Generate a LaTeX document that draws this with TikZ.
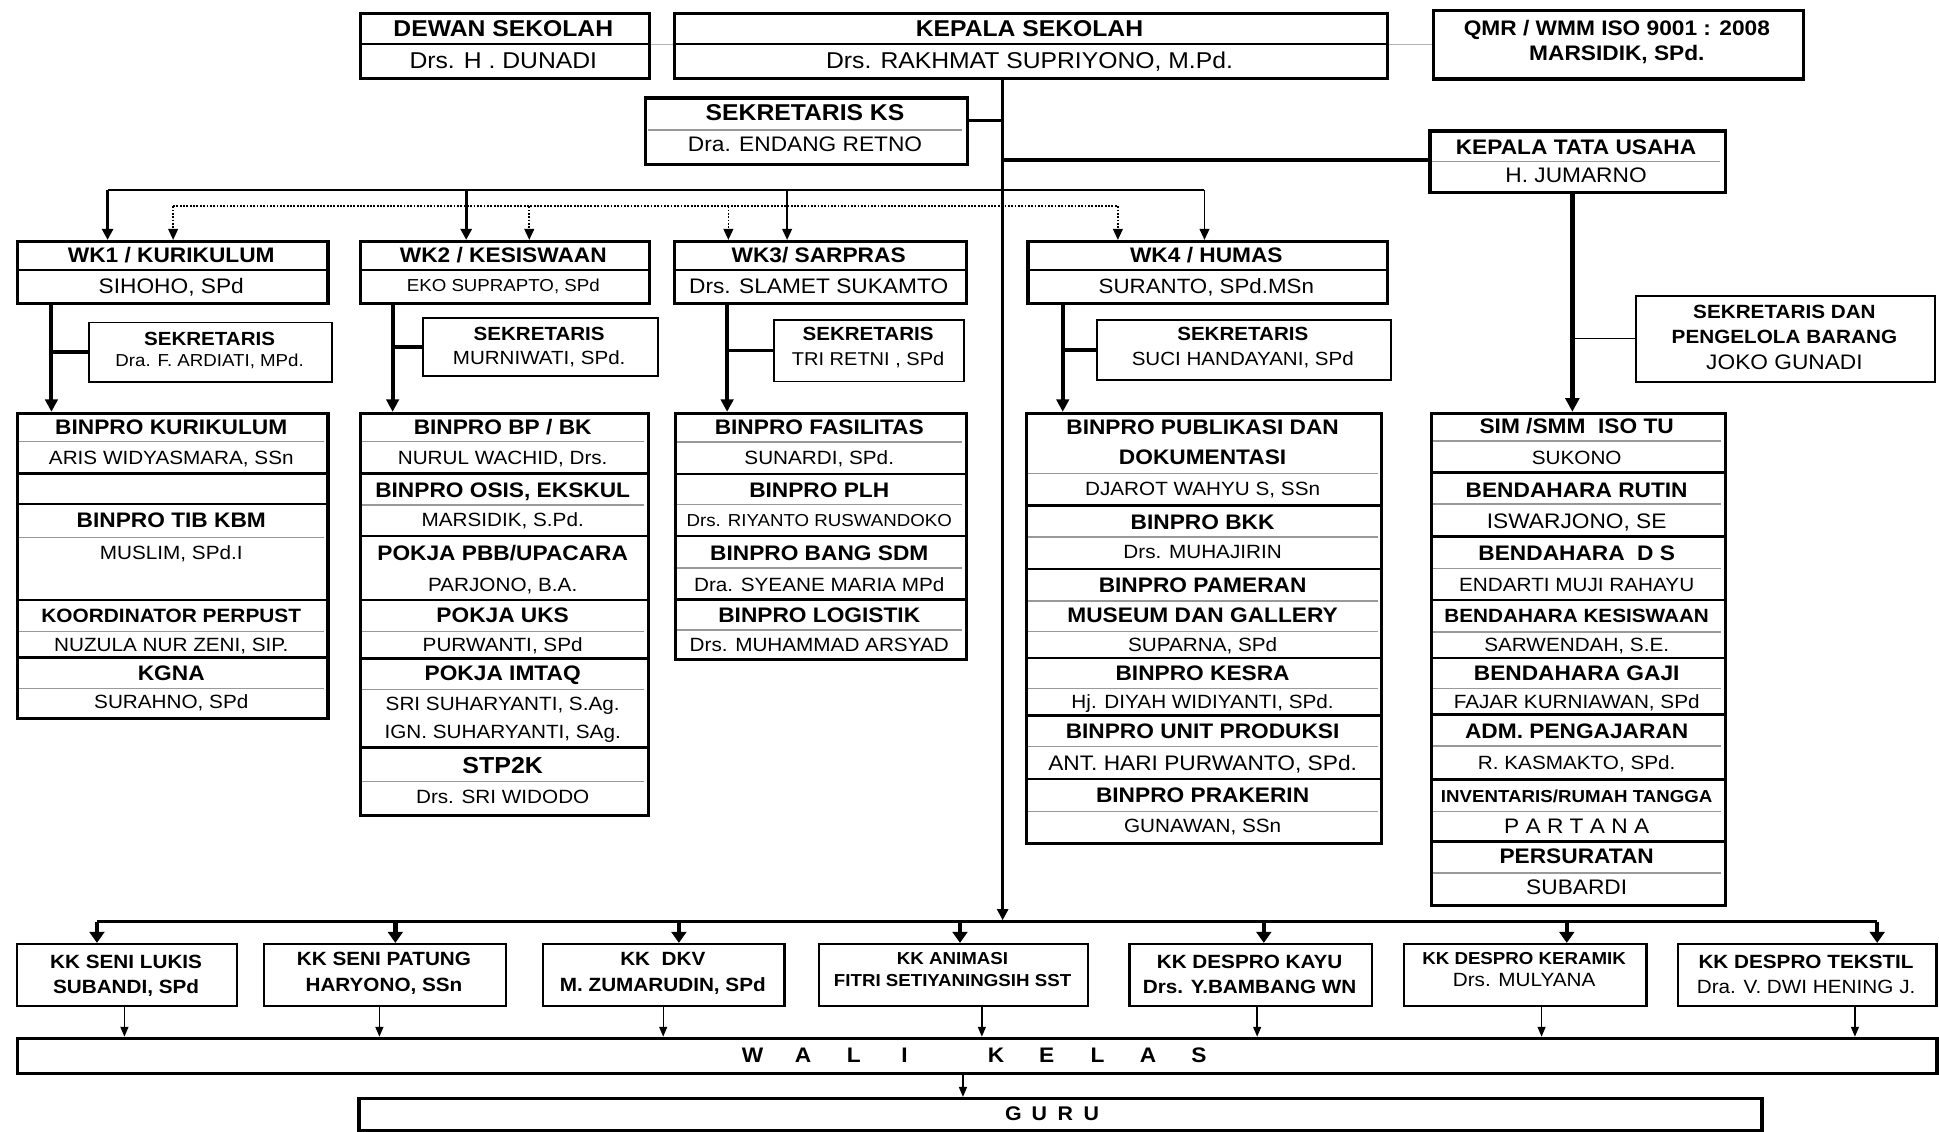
\documentclass[tikz,border=0pt]{standalone}
\usepackage{fontspec}
\setmainfont{Liberation Sans}[FakeStretch=1.08]
\usetikzlibrary{arrows.meta}
\newcommand\bx[6]{\node[#6, anchor=north west, minimum width={#4-#2}, minimum height={#5-#3}] (#1) at (#2,#3) {};}
\newcommand\tx[5]{\node[#4] (#1) at (#2,#3) {#5};}
\newcommand\dv[4]{\draw[#1] (#2,#4) -- (#3,#4);}
\newcommand\spl[1]{\makebox[41pt]{#1}}
\newcommand\spg[1]{\makebox[21pt]{#1}}
\tikzset{
  fsz/.code 2 args={\pgfmathsetmacro\capht{0.716*#1}\edef\tmpx{\noexpand\tikzset{text height=\capht pt}}\tmpx\tikzset{font=\fontsize{#1}{#1}\selectfont#2, text depth=0pt, inner sep=0pt}},
  T/.style={fsz={#1}{\bfseries}}, T/.default=17,
  N/.style={fsz={#1}{}}, N/.default=15.5,
  outer/.style={draw, line width=2.6pt, inner sep=0pt},
  sbox/.style={draw, line width=1.6pt, inner sep=0pt},
  kbox/.style={draw, line width=1.8pt, inner sep=0pt},
  thk/.style={line width=2.2pt},
  mid/.style={line width=1.3pt},
  gry/.style={line width=1pt, draw=black!40},
  faint/.style={line width=0.8pt, draw=black!30},
  trunkline/.style={line width=2pt, -{Triangle[length=9pt,width=9pt]}},
  thickline/.style={line width=2.6pt},
  wkarrA/.style={line width=2.4pt, -{Triangle[length=9pt,width=9pt]}},
  wkarrB/.style={line width=1.3pt, -{Triangle[length=9pt,width=8pt]}},
  dotline/.style={line width=1.3pt, dash pattern=on 1.5pt off 1.2pt},
  dotarr/.style={dotline, -{Triangle[length=9pt,width=8pt]}},
  colarr/.style={line width=3.2pt, -{Triangle[length=10pt,width=10pt]}},
  sekline/.style={line width=3pt},
  tuarr/.style={line width=4pt, -{Triangle[length=11pt,width=11pt]}},
  thinline/.style={line width=1.3pt},
  kkarr/.style={line width=3.5pt, -{Triangle[length=9pt,width=12pt]}},
  warr/.style={line width=1.1pt, -{Triangle[length=8pt,width=6.5pt]}},
  bus/.style={line width=2.2pt},
}
\begin{document}
\begin{tikzpicture}[x=1pt,y=-1pt]
\useasboundingbox (0,0) rectangle (1568,915);
\fill[white] (0,0) rectangle (1568,915);

% ---------- top row ----------
\dv{mid}{290}{524}{35.6}
\dv{mid}{544}{1121}{35.6}
\bx{dewan}{290}{9.5}{524}{62}{outer}
\bx{kepala}{544}{9.5}{1121}{62}{outer}
\bx{qmr}{1158}{7.5}{1457}{62.5}{outer}
\tx{dewanT}{407}{23}{T=18.5}{DEWAN SEKOLAH}
\tx{dewanN}{407}{48.5}{N=18.5}{Drs. H . DUNADI}
\tx{kepalaT}{832.5}{23}{T=18.5}{KEPALA SEKOLAH}
\tx{kepalaN}{832.5}{48.5}{N=18.5}{Drs. RAKHMAT SUPRIYONO, M.Pd.}
\tx{qmrT}{1307.5}{23}{T=17}{QMR / WMM ISO 9001 : 2008}
\tx{qmrN}{1307.5}{43}{T=17}{MARSIDIK, SPd.}

% sekretaris KS
\dv{gry}{524}{778}{105.2}
\bx{sks}{521}{78}{781}{131.6}{outer}
\tx{sksT}{651}{91}{T=18.5}{SEKRETARIS KS}
\tx{sksN}{651}{116.5}{N=17}{Dra. ENDANG RETNO}

% kepala tata usaha
\dv{gry}{1158}{1391}{130.8}
\bx{ktu}{1155}{104.6}{1394}{154.2}{outer}
\tx{ktuT}{1274.5}{118.6}{T=17}{KEPALA TATA USAHA}
\tx{ktuN}{1274.5}{141.5}{N=17}{H. JUMARNO}

% sekretaris dan pengelola barang
\bx{sdan}{1322}{238.6}{1564}{308.2}{sbox}
\tx{sdanA}{1443}{252}{T=15.5}{SEKRETARIS DAN}
\tx{sdanB}{1443}{272.3}{T=15.5}{PENGELOLA BARANG}
\tx{sdanC}{1443}{292.5}{N=17}{JOKO GUNADI}

% ---------- WK boxes ----------
\dv{mid}{13}{264}{218.5}
\dv{mid}{290}{524}{218.5}
\dv{mid}{544}{780}{218.5}
\dv{mid}{830}{1121}{218.5}
\bx{wk1}{13}{194}{264}{244}{outer}
\bx{wk2}{290}{194}{524}{244}{outer}
\bx{wk3}{544}{194}{780}{244}{outer}
\bx{wk4}{830}{194}{1121}{244}{outer}
\tx{wk1T}{138.5}{206.5}{T}{WK1 / KURIKULUM}
\tx{wk1N}{138.5}{231}{N=17}{SIHOHO, SPd}
\tx{wk2T}{407}{206.5}{T}{WK2 / KESISWAAN}
\tx{wk2N}{407}{231}{N=14}{EKO SUPRAPTO, SPd}
\tx{wk3T}{662}{206.5}{T}{WK3/ SARPRAS}
\tx{wk3N}{662}{231}{N=17}{Drs. SLAMET SUKAMTO}
\tx{wk4T}{975.5}{206.5}{T}{WK4 / HUMAS}
\tx{wk4N}{975.5}{231}{N=16.7}{SURANTO, SPd.MSn}

% ---------- sekretaris small boxes ----------
\bx{s1}{71}{260}{268}{308}{sbox}
\tx{s1T}{169.5}{273.6}{T=15.4}{SEKRETARIS}
\tx{s1N}{169.5}{291.5}{N=14}{Dra. F. ARDIATI, MPd.}
\bx{s2}{341}{256.6}{531}{303.3}{sbox}
\tx{s2T}{436}{269.5}{T=15.4}{SEKRETARIS}
\tx{s2N}{436}{289.5}{N=15.4}{MURNIWATI, SPd.}
\bx{s3}{625}{257.8}{779}{307.7}{sbox}
\tx{s3T}{702}{270}{T=15.4}{SEKRETARIS}
\tx{s3N}{702}{290}{N=15}{TRI RETNI , SPd}
\bx{s4}{886}{258}{1124}{306.6}{sbox}
\tx{s4T}{1005}{270}{T=15.4}{SEKRETARIS}
\tx{s4N}{1005}{290}{N=15.4}{SUCI HANDAYANI, SPd}

% ---------- column 1 ----------
\dv{gry}{15}{262}{357}
\dv{thk}{13}{264}{382.8}
\dv{thk}{13}{264}{407.6}
\dv{gry}{15}{262}{434.6}
\dv{thk}{13}{264}{485.2}
\dv{gry}{15}{262}{510.9}
\dv{thk}{13}{264}{531.6}
\dv{gry}{15}{262}{556.7}
\bx{c1}{13}{333}{264}{580}{outer}
\tx{c1a}{138.5}{345}{T}{BINPRO KURIKULUM}
\tx{c1b}{138.5}{369.8}{N}{ARIS WIDYASMARA, SSn}
\tx{c1c}{138.5}{420.5}{T}{BINPRO TIB KBM}
\tx{c1d}{138.5}{446.7}{N}{MUSLIM, SPd.I}
\tx{c1e}{138.5}{497.4}{T=15.6}{KOORDINATOR PERPUST}
\tx{c1f}{138.5}{521.6}{N}{NUZULA NUR ZENI, SIP.}
\tx{c1g}{138.5}{544}{T}{KGNA}
\tx{c1h}{138.5}{567.5}{N}{SURAHNO, SPd}

% ---------- column 2 ----------
\dv{gry}{292}{521}{357}
\dv{thk}{290}{523}{383}
\dv{gry}{292}{521}{408.4}
\dv{thk}{290}{523}{433.5}
\dv{thk}{290}{523}{485.2}
\dv{gry}{292}{521}{510.9}
\dv{thk}{290}{523}{532.4}
\dv{gry}{292}{521}{557.5}
\dv{thk}{290}{523}{604.7}
\dv{gry}{292}{521}{632.2}
\bx{c2}{290}{333}{523}{658}{outer}
\tx{c2a}{406.5}{345}{T}{BINPRO BP / BK}
\tx{c2b}{406.5}{370}{N}{NURUL WACHID, Drs.}
\tx{c2c}{406.5}{396}{T}{BINPRO OSIS, EKSKUL}
\tx{c2d}{406.5}{420.5}{N}{MARSIDIK, S.Pd.}
\tx{c2e}{406.5}{447.5}{T}{POKJA PBB/UPACARA}
\tx{c2f}{406.5}{473}{N}{PARJONO, B.A.}
\tx{c2g}{406.5}{497.4}{T}{POKJA UKS}
\tx{c2h}{406.5}{521.6}{N}{PURWANTI, SPd}
\tx{c2i}{406.5}{544.5}{T}{POKJA IMTAQ}
\tx{c2j}{406.5}{568.8}{N}{SRI SUHARYANTI, S.Ag.}
\tx{c2k}{406.5}{591.7}{N}{IGN. SUHARYANTI, SAg.}
\tx{c2l}{406.5}{618.7}{T=18.7}{STP2K}
\tx{c2m}{406.5}{644.3}{N}{Drs. SRI WIDODO}

% ---------- column 3 ----------
\dv{gry}{547}{778}{357.4}
\dv{thk}{545}{780}{383.2}
\dv{gry}{547}{778}{408.2}
\dv{thk}{545}{780}{433.5}
\dv{gry}{547}{778}{459.3}
\dv{thk}{545}{780}{485}
\dv{gry}{547}{778}{509.5}
\bx{c3}{545}{333}{780}{532}{outer}
\tx{c3a}{662.5}{345.3}{T}{BINPRO FASILITAS}
\tx{c3b}{662.5}{370.3}{N}{SUNARDI, SPd.}
\tx{c3c}{662.5}{396}{T}{BINPRO PLH}
\tx{c3d}{662.5}{420.5}{N=14}{Drs. RIYANTO RUSWANDOKO}
\tx{c3e}{662.5}{447.2}{T}{BINPRO BANG SDM}
\tx{c3f}{662.5}{472.8}{N}{Dra. SYEANE MARIA MPd}
\tx{c3g}{662.5}{497.2}{T}{BINPRO LOGISTIK}
\tx{c3h}{662.5}{521}{N}{Drs. MUHAMMAD ARSYAD}

% ---------- column 4 ----------
\dv{gry}{831}{1114}{383.2}
\dv{thk}{829}{1116}{409}
\dv{gry}{831}{1114}{434.3}
\dv{thk}{829}{1116}{460.1}
\dv{gry}{831}{1114}{486}
\dv{gry}{831}{1114}{510.4}
\dv{thk}{829}{1116}{532}
\dv{gry}{831}{1114}{556.9}
\dv{thk}{829}{1116}{578.4}
\dv{gry}{831}{1114}{603.4}
\dv{thk}{829}{1116}{630}
\dv{gry}{831}{1114}{656.4}
\bx{c4}{829}{333}{1116}{681}{outer}
\tx{c4a}{972.5}{345.3}{T}{BINPRO PUBLIKASI DAN}
\tx{c4b}{972.5}{369.4}{T}{DOKUMENTASI}
\tx{c4c}{972.5}{395.3}{N}{DJAROT WAHYU S, SSn}
\tx{c4d}{972.5}{422}{T}{BINPRO BKK}
\tx{c4e}{972.5}{446.4}{N}{Drs. MUHAJIRIN}
\tx{c4f}{972.5}{472.8}{T}{BINPRO PAMERAN}
\tx{c4g}{972.5}{497.2}{T}{MUSEUM DAN GALLERY}
\tx{c4h}{972.5}{521}{N}{SUPARNA, SPd}
\tx{c4i}{972.5}{544}{T}{BINPRO KESRA}
\tx{c4j}{972.5}{567.5}{N}{Hj. DIYAH WIDIYANTI, SPd.}
\tx{c4k}{972.5}{591.3}{T}{BINPRO UNIT PRODUKSI}
\tx{c4l}{972.5}{616.6}{N=17}{ANT. HARI PURWANTO, SPd.}
\tx{c4m}{972.5}{643}{T}{BINPRO PRAKERIN}
\tx{c4n}{972.5}{667.4}{N}{GUNAWAN, SSn}

% ---------- column 5 (TU) ----------
\dv{gry}{1158}{1392}{356.7}
\dv{thk}{1156}{1394}{382}
\dv{gry}{1158}{1392}{407.5}
\dv{thk}{1156}{1394}{434}
\dv{gry}{1158}{1392}{459.5}
\dv{thk}{1156}{1394}{485.3}
\dv{gry}{1158}{1392}{511}
\dv{thk}{1156}{1394}{532}
\dv{gry}{1158}{1392}{557}
\dv{thk}{1156}{1394}{577.8}
\dv{gry}{1158}{1392}{603.3}
\dv{thk}{1156}{1394}{630.5}
\dv{gry}{1158}{1392}{656}
\dv{thk}{1156}{1394}{680.5}
\dv{gry}{1158}{1392}{706}
\bx{c5}{1156}{333}{1394}{731}{outer}
\tx{c5a}{1275}{344.5}{T}{SIM /SMM\ \ ISO TU}
\tx{c5b}{1275}{370}{N}{SUKONO}
\tx{c5c}{1275}{395.9}{T}{BENDAHARA RUTIN}
\tx{c5d}{1275}{420.9}{N=17}{ISWARJONO, SE}
\tx{c5e}{1275}{447.2}{T}{BENDAHARA\hspace{10pt}D S}
\tx{c5f}{1275}{472.8}{N}{ENDARTI MUJI RAHAYU}
\tx{c5g}{1275}{497.8}{T=15.5}{BENDAHARA KESISWAAN}
\tx{c5h}{1275}{521.4}{N}{SARWENDAH, S.E.}
\tx{c5i}{1275}{544.2}{T}{BENDAHARA GAJI}
\tx{c5j}{1275}{567.2}{N}{FAJAR KURNIAWAN, SPd}
\tx{c5k}{1275}{590.8}{T}{ADM. PENGAJARAN}
\tx{c5l}{1275}{616.4}{N}{R. KASMAKTO, SPd.}
\tx{c5m}{1275}{643.6}{T=14}{INVENTARIS/RUMAH TANGGA}
\tx{c5n}{1275}{667.7}{N=17}{P A R T A N A}
\tx{c5o}{1275}{692.2}{T}{PERSURATAN}
\tx{c5p}{1275}{717.2}{N=17}{SUBARDI}

% ---------- KK boxes ----------
\bx{kk1}{13}{762.5}{191}{812.5}{kbox}
\bx{kk2}{212.5}{762.5}{408.5}{812.5}{kbox}
\bx{kk3}{438.5}{762.5}{633.5}{812.5}{kbox}
\bx{kk4}{661.5}{762.5}{879}{812.5}{kbox}
\bx{kk5}{912.5}{762.5}{1108.5}{812.5}{kbox}
\bx{kk6}{1134.5}{762.5}{1330.5}{812.5}{kbox}
\bx{kk7}{1356}{762.5}{1565}{812.5}{kbox}
\tx{kk1T}{102}{777.5}{T=15.5}{KK SENI LUKIS}
\tx{kk1N}{102}{798}{T=15.5}{SUBANDI, SPd}
\tx{kk2T}{310.5}{775.5}{T=15.5}{KK SENI PATUNG}
\tx{kk2N}{310.5}{796.5}{T=15.5}{HARYONO, SSn}
\tx{kk3T}{536}{775.5}{T=15.5}{KK\ \ DKV}
\tx{kk3N}{536}{796.5}{T=15.5}{M. ZUMARUDIN, SPd}
\tx{kk4T}{770.3}{775}{T=14}{KK ANIMASI}
\tx{kk4N}{770.3}{793}{T=14}{FITRI SETIYANINGSIH SST}
\tx{kk5T}{1010.5}{777.5}{T=15.5}{KK DESPRO KAYU}
\tx{kk5N}{1010.5}{798}{T=15.5}{Drs. Y.BAMBANG WN}
\tx{kk6T}{1232.5}{775}{T=14}{KK DESPRO KERAMIK}
\tx{kk6N}{1232.5}{792.5}{N=15.5}{Drs. MULYANA}
\tx{kk7T}{1460.5}{777.5}{T=15.5}{KK DESPRO TEKSTIL}
\tx{kk7N}{1460.5}{798}{N=15.5}{Dra. V. DWI HENING J.}

% ---------- WALI KELAS and GURU ----------
\bx{wali}{13}{838.3}{1565}{866.6}{outer}
\tx{waliT}{789}{853}{T=17}{\spl{W}\spl{A}\spl{L}\spl{I}\hspace{33pt}\spl{K}\spl{E}\spl{L}\spl{A}\spl{S}}
\bx{guru}{289}{887}{1423.5}{913}{outer}
\tx{guruT}{851}{900.5}{T=16}{\spg{G}\spg{U}\spg{R}\spg{U}}

% ---------- coordinates for connectors ----------
\coordinate (tx) at (810.8,0);
\coordinate (tux) at (1271.5,0);
\coordinate (ymid) at (0,35.6);
\coordinate (ysk) at (0,97.6);
\coordinate (yktu) at (0,129.4);
\coordinate (ysd) at (0,273.6);
\coordinate (ys) at (0,153.4);
\coordinate (yd) at (0,166.8);
\coordinate (a1) at (87,0);
\coordinate (a2) at (377,0);
\coordinate (a3) at (636.5,0);
\coordinate (a4) at (974,0);
\coordinate (d1) at (140,0);
\coordinate (d2) at (428,0);
\coordinate (d3) at (589,0);
\coordinate (d4) at (904,0);
\coordinate (v1) at (41.6,0);
\coordinate (v2) at (317.5,0);
\coordinate (v3) at (588,0);
\coordinate (v4) at (859.4,0);
\coordinate (busL) at (78.4,745.3);
\coordinate (busR) at (1518,745.3);
\coordinate (k2) at (319.7,0);
\coordinate (k3) at (549,0);
\coordinate (k4) at (776.3,0);
\coordinate (k5) at (1022,0);
\coordinate (k6) at (1267,0);
\coordinate (w1) at (100.6,0);
\coordinate (w2) at (306.8,0);
\coordinate (w3) at (536.3,0);
\coordinate (w4) at (794,0);
\coordinate (w5) at (1016.6,0);
\coordinate (w6) at (1246.6,0);
\coordinate (w7) at (1500,0);
\coordinate (g) at (778.7,0);

% ---------- connectors ----------
\draw[faint] (dewan.east |- ymid) -- (kepala.west |- ymid);
\draw[faint] (kepala.east |- ymid) -- (qmr.west |- ymid);
\draw[trunkline, shorten >=1.2pt] (kepala.south -| tx) -- (busL -| tx);
\draw[line width=2.4pt] (sks.east |- ysk) -- (tx |- ysk);
\draw[thickline] (tx |- yktu) -- (ktu.west |- yktu);
\draw[tuarr] (ktu.south -| tux) -- (c5.north -| tux);
\draw[thinline] (tux |- ysd) -- (sdan.west |- ysd);

% distribution to WK
\draw[line width=1.4pt] (a1 |- ys) -- (a4 |- ys);
\draw[wkarrA] (a1 |- ys) -- (wk1.north -| a1);
\draw[wkarrA] (a2 |- ys) -- (wk2.north -| a2);
\draw[wkarrB] (a3 |- ys) -- (wk3.north -| a3);
\draw[wkarrB] (a4 |- ys) -- (wk4.north -| a4);
\draw[dotline] (d1 |- yd) -- (d4 |- yd);
\draw[dotarr] (d1 |- yd) -- (wk1.north -| d1);
\draw[dotarr] (d2 |- yd) -- (wk2.north -| d2);
\draw[dotarr] (d3 |- yd) -- (wk3.north -| d3);
\draw[dotarr] (d4 |- yd) -- (wk4.north -| d4);

% WK to columns
\draw[colarr] (wk1.south -| v1) -- (c1.north -| v1);
\draw[colarr] (wk2.south -| v2) -- (c2.north -| v2);
\draw[colarr] (wk3.south -| v3) -- (c3.north -| v3);
\draw[colarr] (wk4.south -| v4) -- (c4.north -| v4);
\draw[sekline] (s1.west -| v1) -- (s1.west);
\draw[sekline] (s2.west -| v2) -- (s2.west);
\draw[sekline] (s3.west -| v3) -- (s3.west);
\draw[sekline] (s4.west -| v4) -- (s4.west);

% bus to KK
\draw[bus] (busL) -- (busR);
\draw[kkarr] (busL) -- (kk1.north -| busL);
\draw[kkarr] (busL -| k2) -- (kk2.north -| k2);
\draw[kkarr] (busL -| k3) -- (kk3.north -| k3);
\draw[kkarr] (busL -| k4) -- (kk4.north -| k4);
\draw[kkarr] (busL -| k5) -- (kk5.north -| k5);
\draw[kkarr] (busL -| k6) -- (kk6.north -| k6);
\draw[kkarr] (busR) -- (kk7.north -| busR);

% KK to WALI KELAS
\draw[warr] (kk1.south -| w1) -- (wali.north -| w1);
\draw[warr] (kk2.south -| w2) -- (wali.north -| w2);
\draw[warr] (kk3.south -| w3) -- (wali.north -| w3);
\draw[warr] (kk4.south -| w4) -- (wali.north -| w4);
\draw[warr] (kk5.south -| w5) -- (wali.north -| w5);
\draw[warr] (kk6.south -| w6) -- (wali.north -| w6);
\draw[warr] (kk7.south -| w7) -- (wali.north -| w7);
\draw[warr] (wali.south -| g) -- (guru.north -| g);
\end{tikzpicture}
\end{document}
